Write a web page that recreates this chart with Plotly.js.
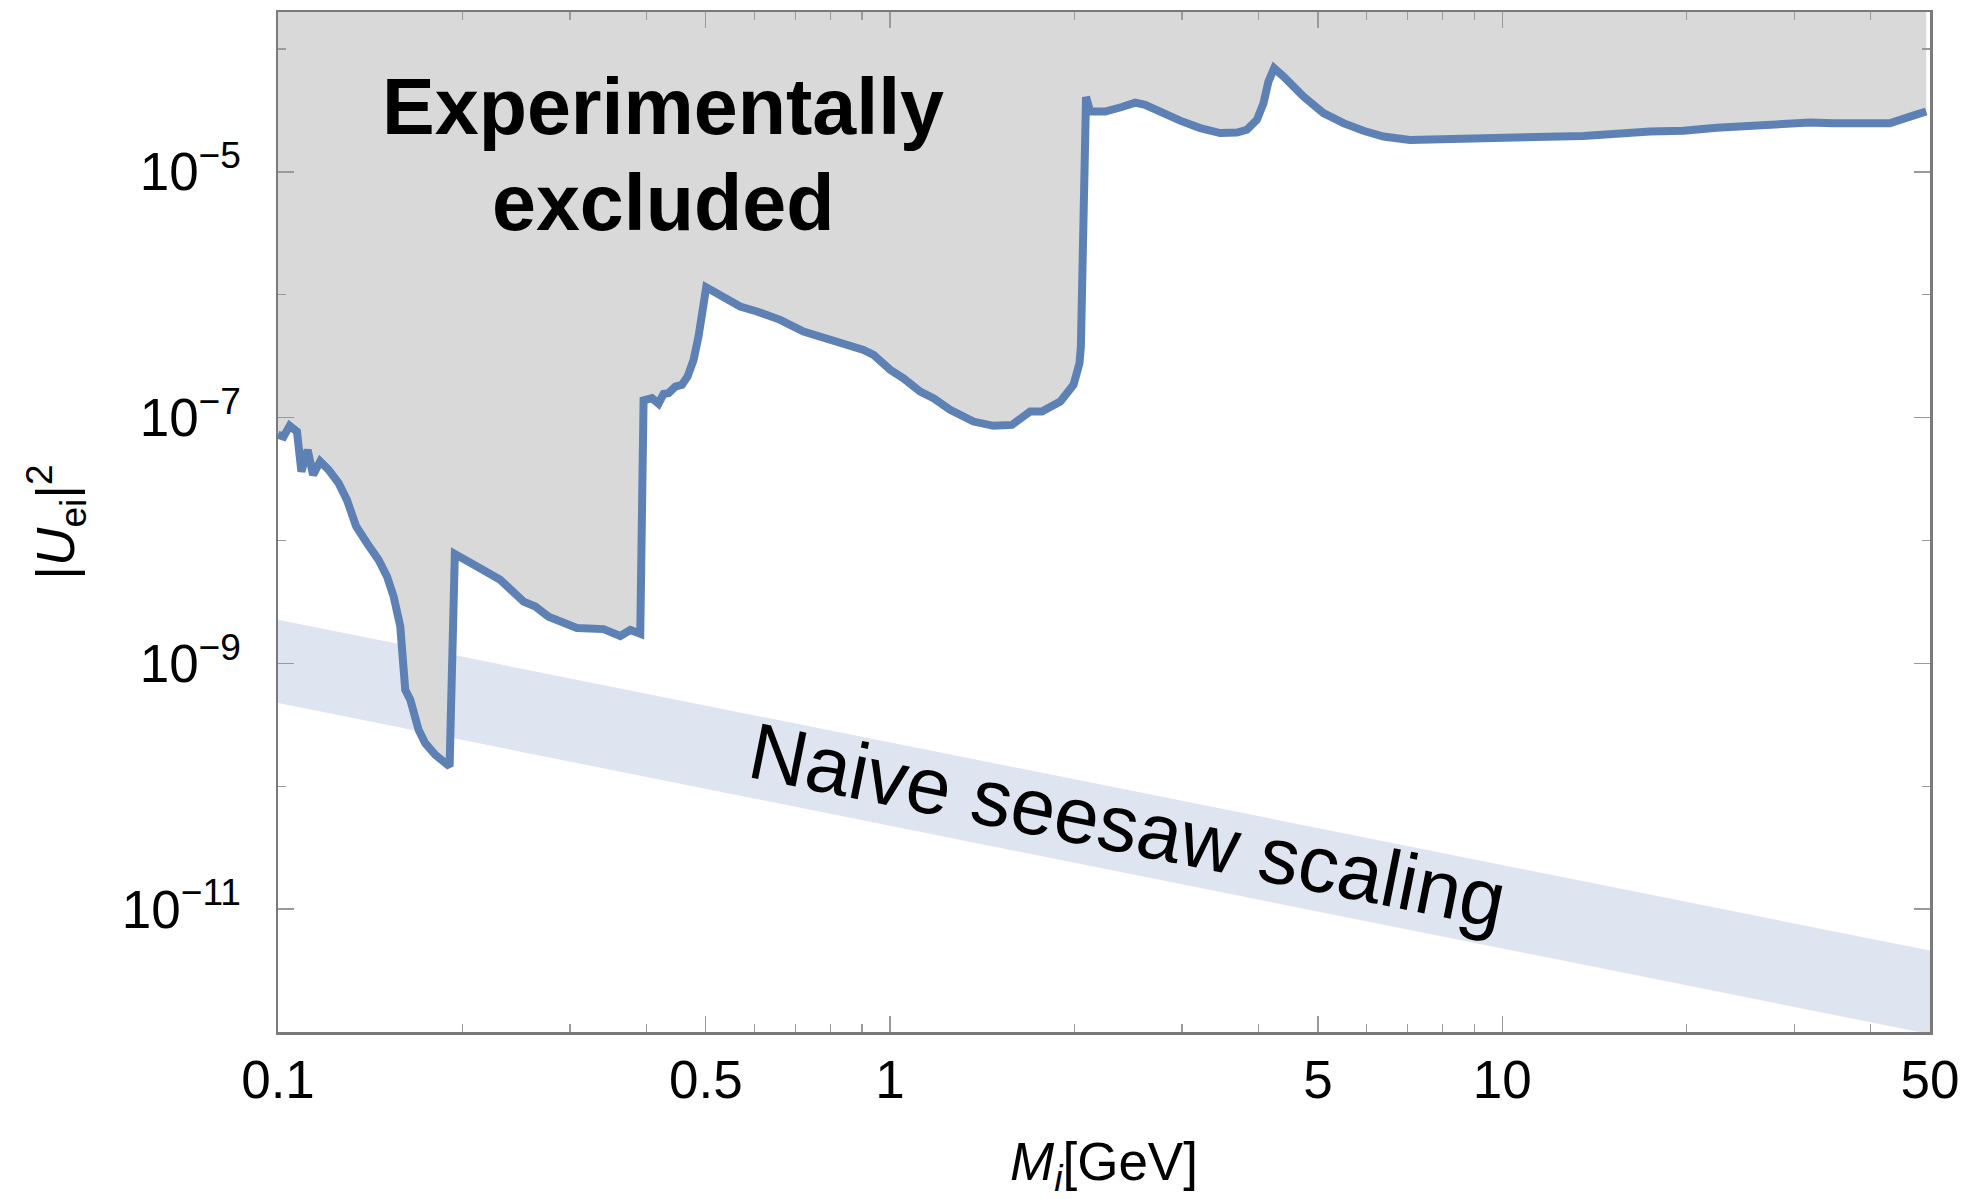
<!DOCTYPE html>
<html>
<head>
<meta charset="utf-8">
<script src="https://cdn.plot.ly/plotly-3.0.1.min.js"></script>
<style>
  html, body { margin: 0; padding: 0; background: #ffffff; }
  #chart { width: 1970px; height: 1199px; }
</style>
</head>
<body>
<div id="chart"></div>
<script>
// Upper limit on the electron-flavour mixing |U_ei|^2 versus heavy neutrino mass M_i [GeV]
const boundMass = [
  0.1, 0.1021, 0.1045, 0.1074, 0.1092, 0.1118, 0.1141, 0.1172, 0.121, 0.1256,
  0.1296, 0.1342, 0.1398, 0.146, 0.1507, 0.1545, 0.1584, 0.1614, 0.1645, 0.1697,
  0.174, 0.1807, 0.1907, 0.1945, 0.2114, 0.2307, 0.2519, 0.2633, 0.2767, 0.3079,
  0.3403, 0.3624, 0.3763, 0.3907, 0.3956, 0.4083, 0.4185, 0.4265, 0.4345, 0.4457,
  0.4571, 0.4668, 0.4775, 0.4864, 0.5007, 0.5345, 0.569, 0.6058, 0.6614, 0.7221,
  0.7886, 0.905, 0.9396, 1.0004, 1.0517, 1.1199, 1.1773, 1.2535, 1.3684, 1.4754,
  1.5812, 1.6938, 1.7701, 1.8967, 1.9935, 2.039, 2.0498, 2.09, 2.123, 2.246,
  2.391, 2.514, 2.61, 2.762, 2.978, 3.211, 3.313, 3.462, 3.686, 3.827,
  3.974, 4.074, 4.151, 4.241, 4.392, 4.736, 5.105, 5.504, 5.934, 6.397,
  7.073, 8.223, 10.56, 13.57, 17.44, 19.77, 22.42, 27.05, 31.84, 34.75,
  39.9, 42.97, 47.32, 49.3
];
const boundMixing = [
  7.24e-8, 7.0e-8, 8.57e-8, 7.71e-8, 3.64e-8, 5.47e-8, 3.42e-8, 4.40e-8, 3.76e-8, 2.93e-8,
  2.14e-8, 1.30e-8, 9.5e-9, 6.95e-9, 5.09e-9, 3.50e-9, 2.0e-9, 6.08e-10, 5.05e-10, 2.88e-10,
  2.24e-10, 1.80e-10, 1.45e-10, 7.76e-9, 6.14e-9, 4.79e-9, 3.18e-9, 2.90e-9, 2.40e-9, 1.94e-9,
  1.90e-9, 1.67e-9, 1.87e-9, 1.74e-9, 1.38e-7, 1.44e-7, 1.30e-7, 1.56e-7, 1.58e-7, 1.79e-7,
  1.85e-7, 2.16e-7, 2.95e-7, 4.57e-7, 1.15e-6, 9.66e-7, 8.02e-7, 7.30e-7, 6.25e-7, 5.01e-7,
  4.44e-7, 3.56e-7, 3.24e-7, 2.45e-7, 2.09e-7, 1.63e-7, 1.44e-7, 1.16e-7, 9.29e-8, 8.57e-8,
  8.73e-8, 1.12e-7, 1.12e-7, 1.35e-7, 1.85e-7, 2.77e-7, 3.79e-7, 4.07e-5, 3.10e-5, 3.10e-5,
  3.37e-5, 3.66e-5, 3.51e-5, 3.04e-5, 2.61e-5, 2.27e-5, 2.20e-5, 2.07e-5, 2.09e-5, 2.20e-5,
  2.65e-5, 3.62e-5, 5.43e-5, 6.98e-5, 5.97e-5, 4.10e-5, 3.01e-5, 2.49e-5, 2.16e-5, 1.94e-5,
  1.82e-5, 1.86e-5, 1.90e-5, 1.96e-5, 2.13e-5, 2.16e-5, 2.29e-5, 2.44e-5, 2.52e-5, 2.49e-5,
  2.49e-5, 2.49e-5, 2.91e-5, 3.1e-5
];

// Naive seesaw band |U|^2 ~ m_nu / M
const seesawMass  = [0.1, 50];
const seesawUpper = [2.26e-9, 4.6e-12];
const seesawLower = [4.75e-10, 9.6e-13];

// Axis extents and ticks
const massRange   = [0.1, 50];
const mixingRange = [1e-12, 2e-4];
const xTickVals  = [0.1, 0.5, 1, 5, 10, 50];
const xTickText  = ["0.1", "0.5", "1", "5", "10", "50"];
const xMinorVals = [0.2, 0.3, 0.4, 0.6, 0.7, 0.8, 0.9, 2, 3, 4, 6, 7, 8, 9, 20, 30, 40];
const yTickVals  = [1e-11, 1e-9, 1e-7, 1e-5];
const yTickText  = ["10<sup>\u221211</sup>", "10<sup>\u22129</sup>", "10<sup>\u22127</sup>", "10<sup>\u22125</sup>"];
const yMinorVals = [1e-10, 1e-8, 1e-6, 1e-4];

const FONT = "'Liberation Sans', Arial, Helvetica, sans-serif";
const lineBlue = "rgb(94,129,181)";

// band polygon: upper edge left->right, lower edge right->left
const bandX = seesawMass.concat(seesawMass.slice().reverse());
const bandY = seesawUpper.concat(seesawLower.slice().reverse());

// excluded region: curve closed along the top of the plot
const nB = boundMass.length;
const exclX = boundMass.concat([boundMass[nB - 1], boundMass[0]]);
const exclY = boundMixing.concat([mixingRange[1], mixingRange[1]]);

const traces = [
  { x: bandX, y: bandY, type: "scatter", mode: "lines", fill: "toself",
    fillcolor: "rgb(223,229,240)", line: { width: 0, color: "rgba(0,0,0,0)" },
    hoverinfo: "skip", showlegend: false },
  { x: exclX, y: exclY, type: "scatter", mode: "lines", fill: "toself",
    fillcolor: "rgb(217,217,217)", line: { width: 0, color: "rgba(0,0,0,0)" },
    hoverinfo: "skip", showlegend: false },
  { x: boundMass, y: boundMixing, type: "scatter", mode: "lines",
    line: { color: lineBlue, width: 8 }, showlegend: false }
];

// label position along the middle of the band
const lx = Math.log10(2.44);
const t = (lx - Math.log10(seesawMass[0])) / (Math.log10(seesawMass[1]) - Math.log10(seesawMass[0]));
const lerp = (a, b) => Math.log10(a[0]) + t * (Math.log10(a[1]) - Math.log10(a[0]));
const ly = 0.5 * (lerp(seesawUpper) + lerp(seesawLower)) + 0.05;

const axisCommon = {
  type: "log",
  showgrid: false,
  zeroline: false,
  showline: true,
  linecolor: "#7a7a7a",
  linewidth: 2.5,
  mirror: "ticks",
  ticks: "inside",
  ticklen: 16,
  tickwidth: 1.3,
  tickcolor: "#9a9a9a",
  tickmode: "array",
  tickfont: { family: FONT, size: 53, color: "#000" }
};

const layout = {
  width: 1970,
  height: 1199,
  margin: { l: 278, r: 40, t: 12, b: 167 },
  paper_bgcolor: "#ffffff",
  plot_bgcolor: "#ffffff",
  showlegend: false,
  xaxis: Object.assign({}, axisCommon, {
    range: [Math.log10(massRange[0]), Math.log10(massRange[1])],
    tickvals: xTickVals,
    ticktext: xTickText,
    ticklabelstandoff: 0,
    minor: { tickmode: "array", tickvals: xMinorVals, ticks: "inside", ticklen: 8,
             tickwidth: 1.3, tickcolor: "#9a9a9a", showgrid: false },
    title: { text: "<i>M</i><sub><i>i</i></sub>[GeV]", standoff: 68,
             font: { family: FONT, size: 53, color: "#000" } }
  }),
  yaxis: Object.assign({}, axisCommon, {
    range: [Math.log10(mixingRange[0]), Math.log10(mixingRange[1])],
    tickvals: yTickVals,
    ticktext: yTickText,
    ticklabelstandoff: 24,
    minor: { tickmode: "array", tickvals: yMinorVals, ticks: "inside", ticklen: 8,
             tickwidth: 1.3, tickcolor: "#9a9a9a", showgrid: false },
    title: { text: "|<i>U</i><sub>ei</sub>|<sup>2</sup>", standoff: 30,
             font: { family: FONT, size: 53, color: "#000" } }
  }),
  annotations: [
    { text: "Experimentally", xref: "paper", yref: "paper", x: 0.2332, y: 0.907,
      xanchor: "center", yanchor: "middle", showarrow: false,
      font: { family: FONT, size: 79, color: "#000", weight: 700 } },
    { text: "excluded", xref: "paper", yref: "paper", x: 0.2332, y: 0.813,
      xanchor: "center", yanchor: "middle", showarrow: false,
      font: { family: FONT, size: 79, color: "#000", weight: 700 } },
    { text: "Naive seesaw scaling", xref: "x", yref: "y", x: lx, y: ly,
      xanchor: "center", yanchor: "middle", showarrow: false, textangle: 11.4,
      font: { family: FONT, size: 80, color: "#000" } }
  ]
};

Plotly.newPlot("chart", traces, layout, { staticPlot: true, displayModeBar: false });
</script>
</body>
</html>
